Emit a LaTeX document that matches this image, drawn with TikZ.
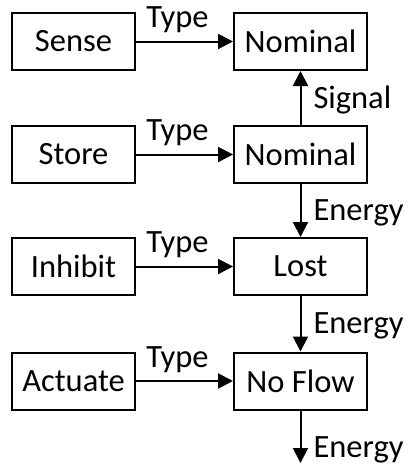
\documentclass[tikz,border=0pt]{standalone}
\usepackage{fontspec}
\setmainfont{Carlito}
\usetikzlibrary{arrows.meta}
\begin{document}
\begin{tikzpicture}[x=1pt,y=1pt,
  font=\fontsize{32.5}{36}\selectfont,
  line width=2pt,
  fnbox/.style={draw, minimum width=123pt, minimum height=57pt, inner sep=0pt},
  flowbox/.style={draw, minimum width=133pt, minimum height=57pt, inner sep=0pt},
  flow/.style={-{Triangle[length=15pt,width=15pt]}},
  typelbl/.style={inner sep=0pt, anchor=base, xshift=-7pt, yshift=14pt},
  sidelbl/.style={inner sep=0pt, anchor=base west, xshift=12pt, yshift=-10pt}]
\useasboundingbox (0,0) rectangle (408,-464);

% function boxes (left column)
\node[fnbox] (sense)   at (73.5,-41.5)  {Sense};
\node[fnbox] (store)   at (73.5,-154.5) {Store};
\node[fnbox] (inhibit) at (73.5,-266.5) {Inhibit};
\node[fnbox] (actuate) at (73.5,-381)   {Actuate};

% flow state boxes (right column)
\node[flowbox] (nom1)   at (300.5,-41.5)  {Nominal};
\node[flowbox] (nom2)   at (300.5,-154.5) {Nominal};
\node[flowbox] (lost)   at (300.5,-266.5) {Lost};
\node[flowbox] (noflow) at (300.5,-381)   {No Flow};

\coordinate (out) at (300.5,-463);

% type links
\draw[flow] (sense)   -- node[typelbl] {Type} (nom1);
\draw[flow] (store)   -- node[typelbl] {Type} (nom2);
\draw[flow] (inhibit) -- node[typelbl] {Type} (lost);
\draw[flow] (actuate) -- node[typelbl] {Type} (noflow);

% vertical flows
\draw[flow] (nom2) -- node[sidelbl] {Signal} (nom1);
\draw[flow] (nom2) -- node[sidelbl] {Energy} (lost);
\draw[flow] (lost) -- node[sidelbl] {Energy} (noflow);
\draw[flow] (noflow) -- node[sidelbl, pos=0.7, xshift=0pt, yshift=0pt] {Energy} (out);
\end{tikzpicture}
\end{document}
